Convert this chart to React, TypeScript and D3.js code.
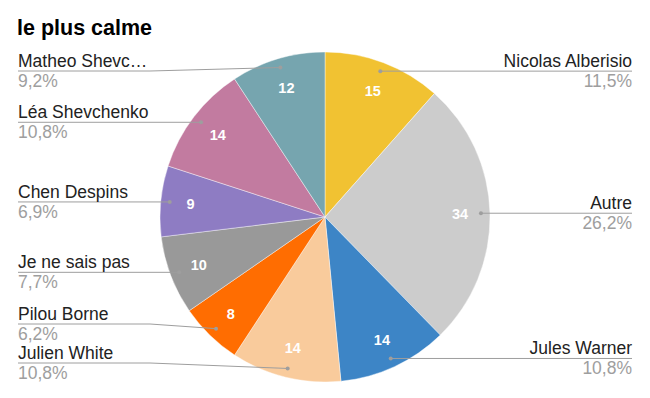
import React, { useEffect, useRef } from "react";
import * as d3 from "d3";

const names = [
  "Nicolas Alberisio",
  "Autre",
  "Jules Warner",
  "Julien White",
  "Pilou Borne",
  "Je ne sais pas",
  "Chen Despins",
  "Léa Shevchenko",
  "Matheo Shevc…",
];
const counts = [15, 34, 14, 14, 8, 10, 9, 14, 12];
const colors = [
  "#f1c232",
  "#cccccc",
  "#3d85c6",
  "#f9cb9c",
  "#ff6d01",
  "#999999",
  "#8e7cc3",
  "#c27ba0",
  "#76a5af",
];

const W = 650;
const H = 398;

export default function App() {
  const ref = useRef<SVGSVGElement>(null);

  useEffect(() => {
    const svg = d3.select(ref.current);
    svg.selectAll("*").remove();

    const cx = 325, cy = 217, R = 165;
    const font = "Arial, 'Liberation Sans', sans-serif";
    const total = d3.sum(counts);
    const fmt = (v: number) => ((v / total) * 100).toFixed(1).replace(".", ",") + "%";

    svg.append("text")
      .attr("x", 17).attr("y", 35)
      .attr("font-family", font).attr("font-size", 21.5).attr("font-weight", "bold")
      .attr("fill", "#000")
      .text("le plus calme");

    const data = names.map((n, i) => ({ name: n, value: counts[i], color: colors[i] }));
    const arcs = d3.pie<any>().value(d => d.value).sort(null)(data);
    const arc = d3.arc<any>().innerRadius(0).outerRadius(R);
    const g = svg.append("g").attr("transform", `translate(${cx},${cy})`);

    g.selectAll("path").data(arcs).join("path")
      .attr("d", arc)
      .attr("fill", d => d.data.color)
      .attr("stroke", "rgba(255,255,255,0.6)")
      .attr("stroke-width", 0.7);

    const polar = (a: number, r: number) => [r * Math.sin(a), -r * Math.cos(a)];

    g.selectAll("text.val").data(arcs).join("text")
      .attr("class", "val")
      .attr("x", d => polar((d.startAngle + d.endAngle) / 2, 135)[0])
      .attr("y", d => polar((d.startAngle + d.endAngle) / 2, 135)[1])
      .attr("dy", "0.36em")
      .attr("text-anchor", "middle")
      .attr("font-family", font).attr("font-size", 14.5).attr("font-weight", "bold")
      .attr("fill", "#fff")
      .text(d => d.data.value);

    // labels with simple collision handling
    const items = arcs.map(d => {
      const a = (d.startAngle + d.endAngle) / 2;
      const p = polar(a, 156);
      return { d, dx: cx + p[0], dy: cy + p[1], right: a < Math.PI, y: cy + p[1] };
    });
    const top = 71, bottom = 363, gap = 39;
    [true, false].forEach(side => {
      const list = items.filter(it => it.right === side).sort((a, b) => a.dy - b.dy);
      list.forEach(it => { it.y = Math.max(top, Math.min(bottom, it.dy)); });
      for (let i = list.length - 2; i >= 0; i--) {
        if (list[i + 1].y - list[i].y < gap) list[i].y = list[i + 1].y - gap;
      }
      for (let i = 1; i < list.length; i++) {
        if (list[i].y - list[i - 1].y < gap) list[i].y = list[i - 1].y + gap;
      }
    });

    const lab = svg.append("g");
    items.forEach(it => {
      const x0 = it.right ? 632 : 18;
      const elbow = it.right ? 500 : 150;
      lab.append("polyline")
        .attr("points", `${x0},${it.y} ${elbow},${it.y} ${it.dx},${it.dy}`)
        .attr("fill", "none").attr("stroke", "#9e9e9e").attr("stroke-width", 1);
      lab.append("circle").attr("cx", it.dx).attr("cy", it.dy).attr("r", 2).attr("fill", "#9e9e9e");
      lab.append("text")
        .attr("x", x0).attr("y", it.y - 4)
        .attr("text-anchor", it.right ? "end" : "start")
        .attr("font-family", font).attr("font-size", 17.5).attr("fill", "#222")
        .text(it.d.data.name);
      lab.append("text")
        .attr("x", x0).attr("y", it.y + 16)
        .attr("text-anchor", it.right ? "end" : "start")
        .attr("font-family", font).attr("font-size", 17.5).attr("fill", "#9e9e9e")
        .text(fmt(it.d.data.value));
    });
  }, []);

  return (
    <svg ref={ref} width={W} height={H}
      style={{ position: "absolute", left: 0, top: 0, background: "#fff" }} />
  );
}
